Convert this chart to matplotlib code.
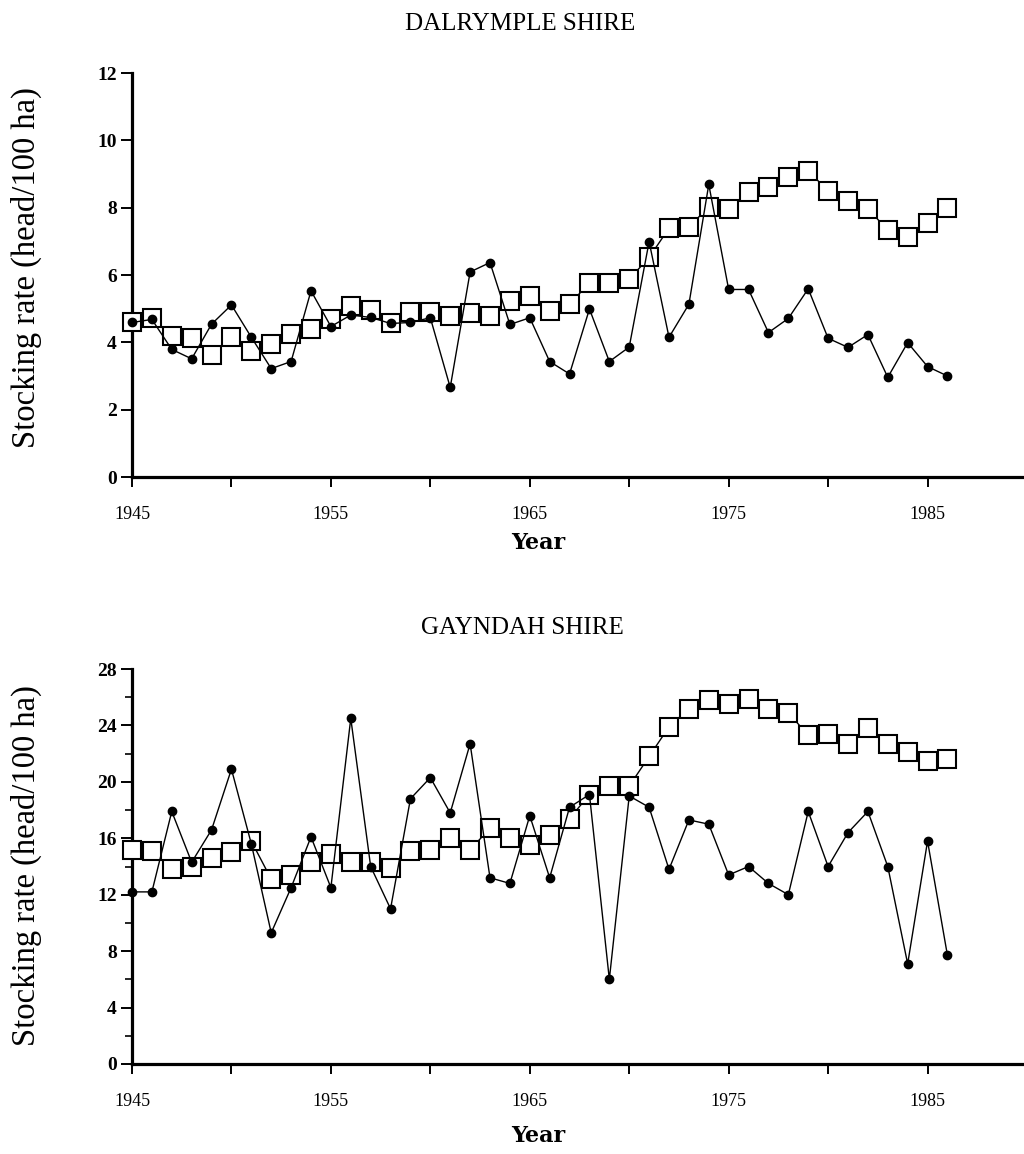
import matplotlib
matplotlib.use("Agg")
import matplotlib.pyplot as plt
from matplotlib.ticker import MultipleLocator, FixedLocator

years = list(range(1945, 1987))

# Dalrymple Shire (head/100 ha)
dal_circles = [4.59, 4.68, 3.79, 3.51, 4.54, 5.11, 4.15, 3.22, 3.43, 5.53,
               4.47, 4.81, 4.74, 4.56, 4.59, 4.73, 2.66, 6.09, 6.37, 4.53,
               4.73, 3.43, 3.06, 4.99, 3.43, 3.86, 6.99, 4.15, 5.13, 8.69,
               5.57, 5.57, 4.29, 4.71, 5.59, 4.12, 3.85, 4.23, 2.96, 3.99,
               3.28, 3.00]
dal_squares = [4.59, 4.71, 4.19, 4.14, 3.62, 4.17, 3.74, 3.94, 4.24, 4.39,
               4.68, 5.08, 4.96, 4.56, 4.89, 4.91, 4.79, 4.88, 4.79, 5.24,
               5.39, 4.94, 5.15, 5.75, 5.75, 5.88, 6.52, 7.39, 7.44, 8.01,
               7.96, 8.46, 8.62, 8.92, 9.09, 8.50, 8.20, 7.96, 7.34, 7.14,
               7.53, 8.00]

# Gayndah Shire (head/100 ha)
gay_circles = [12.2, 12.2, 17.9, 14.3, 16.6, 20.9, 15.6, 9.3, 12.5, 16.1,
               12.5, 24.5, 14.0, 11.0, 18.8, 20.3, 17.8, 22.7, 13.2, 12.8,
               17.6, 13.2, 18.2, 19.1, 6.0, 19.0, 18.2, 13.8, 17.3, 17.0,
               13.4, 14.0, 12.8, 12.0, 17.9, 14.0, 16.4, 17.9, 14.0, 7.1,
               15.8, 7.7]
gay_squares = [15.2, 15.1, 13.8, 14.0, 14.6, 15.0, 15.8, 13.1, 13.4, 14.3,
               14.9, 14.3, 14.3, 13.9, 15.1, 15.2, 16.05, 15.2, 16.7, 16.0,
               15.5, 16.2, 17.4, 19.1, 19.7, 19.7, 21.8, 23.9, 25.2, 25.8,
               25.5, 25.9, 25.2, 24.9, 23.3, 23.4, 22.7, 23.8, 22.7, 22.1,
               21.5, 21.6]

x_major = [1945, 1955, 1965, 1975, 1985]
x_minor = [1950, 1960, 1970, 1980, 1990]

W, H = 1024, 1154
fig = plt.figure(figsize=(W / 100, H / 100), dpi=100)

serif = "Liberation Serif"


def make_axes(left_px, top_px, bottom_px, right_px):
    return fig.add_axes([left_px / W, 1 - bottom_px / H,
                         (right_px - left_px) / W, (bottom_px - top_px) / H])


def style(ax, ymax, ymajor, yminor, pad_x):
    ax.set_xlim(1945, 1990)
    ax.set_ylim(0, ymax)
    for s in ("top", "right"):
        ax.spines[s].set_visible(False)
    for s in ("left", "bottom"):
        ax.spines[s].set_linewidth(2.3)
    ax.xaxis.set_major_locator(FixedLocator(x_major))
    ax.xaxis.set_minor_locator(FixedLocator(x_minor))
    ax.yaxis.set_major_locator(MultipleLocator(ymajor))
    if yminor:
        ax.yaxis.set_minor_locator(MultipleLocator(yminor))
    ax.tick_params(axis="x", which="both", direction="out", length=7,
                   width=1.4, pad=pad_x)
    ax.tick_params(axis="y", which="major", direction="out", length=8,
                   width=1.4, pad=3)
    ax.tick_params(axis="y", which="minor", direction="out", length=5,
                   width=1.2)
    for lab in ax.get_xticklabels():
        lab.set_fontfamily(serif)
        lab.set_fontsize(13)
    for lab in ax.get_yticklabels():
        lab.set_fontfamily(serif)
        lab.set_fontweight("bold")
        lab.set_fontsize(14)


def draw(ax, circles, squares):
    ax.plot(years, squares, color="black", lw=1.0, marker="s",
            markersize=12.5, markerfacecolor="white",
            markeredgecolor="black", markeredgewidth=1.5, zorder=3,
            clip_on=False)
    ax.plot(years, circles, color="black", lw=1.0, marker="o",
            markersize=6, markerfacecolor="black",
            markeredgecolor="black", zorder=4, clip_on=False)


ax1 = make_axes(132, 73, 477, 1027)
draw(ax1, dal_circles, dal_squares)
style(ax1, 12, 2, None, 14)

ax2 = make_axes(132, 669, 1064, 1027)
draw(ax2, gay_circles, gay_squares)
style(ax2, 28, 4, 2, 14)

fig.text(520 / W, 1 - 24 / H, "DALRYMPLE SHIRE", ha="center", va="center",
         fontfamily=serif, fontsize=18)
fig.text(522 / W, 1 - 628 / H, "GAYNDAH SHIRE", ha="center", va="center",
         fontfamily=serif, fontsize=18)

ylab = "Stocking rate (head/100 ha)"
fig.text(26 / W, 1 - 268 / H, ylab, rotation=90, ha="center", va="center",
         fontfamily=serif, fontsize=23.5)
fig.text(26 / W, 1 - 866 / H, ylab, rotation=90, ha="center", va="center",
         fontfamily=serif, fontsize=23.5)

fig.text(538 / W, 1 - 543 / H, "Year", ha="center", va="center",
         fontfamily="DejaVu Serif", fontweight="bold", fontsize=16)
fig.text(538 / W, 1 - 1136 / H, "Year", ha="center", va="center",
         fontfamily="DejaVu Serif", fontweight="bold", fontsize=16)

fig.savefig("out.png", dpi=100, facecolor="white")
